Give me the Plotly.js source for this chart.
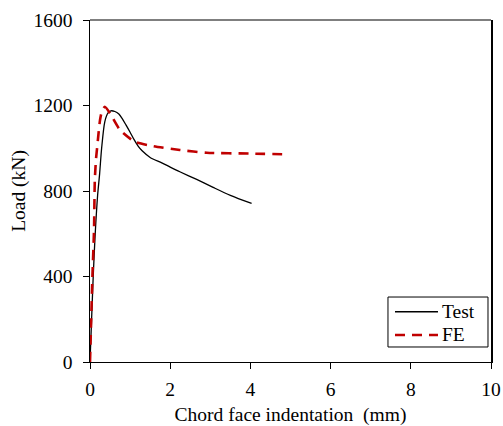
<!DOCTYPE html>
<html>
<head>
<meta charset="utf-8">
<script src="https://cdn.plot.ly/plotly-3.0.1.min.js"></script>
<style>html,body{margin:0;padding:0;background:#fff;}#chart{width:503px;height:426px;}</style>
</head>
<body>
<div id="chart"></div>
<script>
const testX = [0, 0.04, 0.08, 0.13, 0.19, 0.24, 0.29, 0.37, 0.45, 0.52, 0.62, 0.72, 0.8, 0.9, 1.0, 1.1, 1.2, 1.3, 1.5, 1.79, 2.0, 2.24, 2.66, 3.07, 3.5, 4.03];
const testY = [0, 200, 400, 600, 780, 880, 1000, 1125, 1165, 1175, 1172, 1160, 1140, 1108, 1075, 1040, 1010, 988, 957, 932, 912, 890, 854, 817, 780, 742];
const feX = [0, 0.03, 0.06, 0.1, 0.12, 0.15, 0.18, 0.25, 0.3, 0.37, 0.5, 0.75, 1.12, 1.58, 2.24, 2.91, 4.0, 4.85];
const feY = [0, 200, 400, 617, 850, 950, 1007, 1132, 1175, 1194, 1163, 1085, 1030, 1010, 992, 979, 975, 972];
const xTicks = [0, 2, 4, 6, 8, 10];
const yTicks = [0, 400, 800, 1200, 1600];
const seriesNames = ['Test', 'FE'];
const seriesColors = ['#000000', '#C00000'];

const font = {family: '"Liberation Serif", "Times New Roman", serif', size: 19.5, color: '#000'};

const traces = [
  {x: testX, y: testY, name: seriesNames[0], mode: 'lines', type: 'scatter', showlegend: false,
   line: {color: seriesColors[0], width: 1.3, shape: 'spline', smoothing: 0.8}},
  {x: feX, y: feY, name: seriesNames[1], mode: 'lines', type: 'scatter', showlegend: false,
   line: {color: seriesColors[1], width: 2.6, dash: '10px,7px', shape: 'spline', smoothing: 0.6}}
];

// Manual legend (paper coordinates)
const lg = {x0: 0.7431, x1: 0.9925, y0: 0.0439, y1: 0.190, lx0: 0.7606, lx1: 0.8678, tx: 0.8728, rows: [0.147, 0.079]};
const shapes = [
  {type: 'line', xref: 'paper', yref: 'paper', x0: 0, x1: 1, y0: 1, y1: 1, line: {color: '#555', width: 1.3}},
  {type: 'rect', xref: 'paper', yref: 'paper', x0: lg.x0, x1: lg.x1, y0: lg.y0, y1: lg.y1,
   line: {color: '#000', width: 1}, fillcolor: '#fff'},
  {type: 'line', xref: 'paper', yref: 'paper', x0: lg.lx0, x1: lg.lx1, y0: lg.rows[0], y1: lg.rows[0],
   line: {color: seriesColors[0], width: 1.3}},
  {type: 'line', xref: 'paper', yref: 'paper', x0: lg.lx0, x1: lg.lx1, y0: lg.rows[1], y1: lg.rows[1],
   line: {color: seriesColors[1], width: 2.6, dash: '10px,7px'}}
];
const annotations = seriesNames.map((n, i) => ({
  text: n, xref: 'paper', yref: 'paper', x: lg.tx, y: lg.rows[i], xanchor: 'left', yanchor: 'middle',
  showarrow: false, font: font
}));

const layout = {
  width: 503, height: 426,
  margin: {l: 90, r: 12, t: 20, b: 64},
  paper_bgcolor: '#fff', plot_bgcolor: '#fff',
  font: font,
  showlegend: false,
  xaxis: {range: [0, 10], tickvals: xTicks, ticktext: xTicks.map(String),
          showgrid: false, zeroline: false, showline: true, linecolor: '#000', linewidth: 1.3,
          ticks: 'outside', ticklen: 6, tickcolor: '#000', tickwidth: 1,
          mirror: false, tickfont: font, ticklabelstandoff: 3,
          title: {text: 'Chord face indentation  (mm)', font: font, standoff: 14}},
  yaxis: {range: [0, 1600], tickvals: yTicks, ticktext: yTicks.map(String),
          showgrid: false, zeroline: false, showline: true, linecolor: '#000', linewidth: 1.5,
          ticks: 'outside', ticklen: 6, tickcolor: '#000', tickwidth: 1,
          mirror: true, tickfont: font, ticklabelstandoff: 6,
          title: {text: 'Load (kN)', font: font, standoff: 3}},
  shapes: shapes,
  annotations: annotations
};

Plotly.newPlot('chart', traces, layout, {staticPlot: true, displayModeBar: false});
</script>
</body>
</html>
